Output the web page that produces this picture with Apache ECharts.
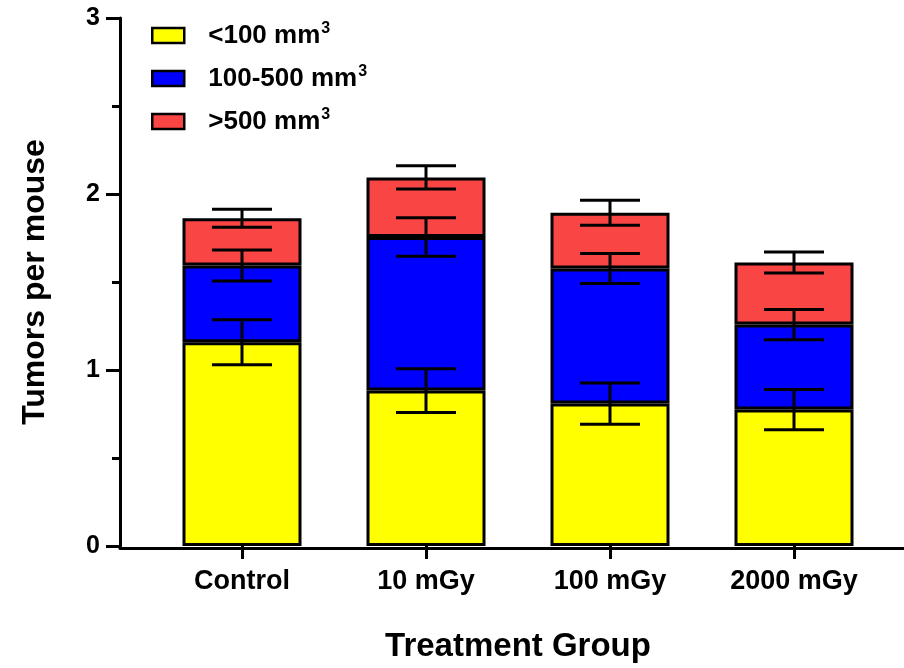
<!DOCTYPE html>
<html>
<head>
<meta charset="utf-8">
<script src="https://cdn.jsdelivr.net/npm/echarts@6/dist/echarts.min.js"></script>
<style>
	html, body { margin: 0; padding: 0; background: #fff; }
	#chart { width: 904px; height: 668px; }
</style>
</head>
<body>
<div id="chart"></div>
<script>
'use strict';
// groups on the x axis
var categories = ['Control', '10 mGy', '100 mGy', '2000 mGy'];
var seriesNames = ['<100 mm', '100-500 mm', '>500 mm'];
// stacked segment heights (tumors per mouse)
var small = [1.158, 0.883, 0.809, 0.775];
var medium = [0.436, 0.873, 0.768, 0.483];
var large = [0.268, 0.338, 0.317, 0.353];
// error bar half-lengths at the top of each segment
var smallErr = [0.128, 0.124, 0.117, 0.114];
var mediumErr = [0.088, 0.109, 0.085, 0.086];
var largeErr = [0.051, 0.066, 0.071, 0.060];
var yTicks = [0, 1, 2, 3];

var font = "'Liberation Sans', Arial, sans-serif";
var colors = ['#ffff00', '#0000ff', '#fa4545'];

function cumulative(layers, upto) {
	return categories.map(function (c, i) {
		var s = 0;
		for (var k = 0; k <= upto; k++) { s += layers[k][i]; }
		return s;
	});
}

var layers = [small, medium, large];
var errs = [smallErr, mediumErr, largeErr];

function errRender(params, api) {
	var x = api.value(0), top = api.value(1), e = api.value(2);
	var hi = api.coord([x, top + e]);
	var lo = api.coord([x, top - e]);
	var half = 30;
	var st = { stroke: '#000', lineWidth: 3 };
	return {
		type: 'group',
		children: [
			{ type: 'line', shape: { x1: hi[0], y1: hi[1], x2: lo[0], y2: lo[1] }, style: st },
			{ type: 'line', shape: { x1: hi[0] - half, y1: hi[1], x2: hi[0] + half, y2: hi[1] }, style: st },
			{ type: 'line', shape: { x1: lo[0] - half, y1: lo[1], x2: lo[0] + half, y2: lo[1] }, style: st }
		]
	};
}

var series = [];
layers.forEach(function (arr, k) {
	series.push({
		name: seriesNames[k],
		type: 'bar',
		stack: 'total',
		barWidth: 119,
		itemStyle: { color: colors[k], borderColor: '#000', borderWidth: 3 },
		data: arr
	});
});
layers.forEach(function (arr, k) {
	var tops = cumulative(layers, k);
	series.push({
		type: 'custom',
		renderItem: errRender,
		z: 5,
		silent: true,
		data: tops.map(function (t, i) { return [i, t, errs[k][i]]; })
	});
});

var axisFont = { fontFamily: font, fontWeight: 'bold', color: '#000' };

var chart = echarts.init(document.getElementById('chart'));
chart.setOption({
	animation: false,
	textStyle: { fontFamily: font },
	grid: [
		{ left: 150, right: 18, top: 18, bottom: 120 },
		{ left: 120, right: 0, top: 18, bottom: 120 }
	],
	legend: {
		data: seriesNames,
		orient: 'vertical',
		left: 151,
		top: 21,
		itemWidth: 32,
		itemHeight: 15,
		itemGap: 14,
		icon: 'rect',
		itemStyle: { borderColor: '#000', borderWidth: 2.5 },
		formatter: function (name) { return name + '{sup|3}'; },
		textStyle: {
			fontFamily: font, fontSize: 26, fontWeight: 'bold', color: '#000',
			lineHeight: 29,
			padding: [0, 0, 0, 19],
			rich: {
				sup: { fontFamily: font, fontSize: 16, fontWeight: 'bold', color: '#000', verticalAlign: 'top', lineHeight: 29, padding: [0, 0, 0, 1] }
			}
		},
		padding: 0
	},
	xAxis: [
		{
			type: 'category',
			data: categories,
			gridIndex: 0,
			name: 'Treatment Group',
			nameLocation: 'middle',
			nameGap: 84,
			nameTextStyle: Object.assign({ fontSize: 33 }, axisFont),
			axisLine: { show: false },
			axisTick: { show: true, alignWithLabel: true, length: 13, lineStyle: { color: '#000', width: 3 } },
			axisLabel: Object.assign({ fontSize: 27, margin: 22 }, axisFont),
			splitLine: { show: false }
		},
		{
			type: 'value',
			gridIndex: 1,
			min: 0,
			max: 1,
			axisLine: { show: true, onZero: false, lineStyle: { color: '#000', width: 3 } },
			axisTick: { show: false },
			axisLabel: { show: false },
			splitLine: { show: false }
		}
	],
	yAxis: [
		{
			type: 'value',
			gridIndex: 0,
			offset: 30,
			min: yTicks[0],
			max: yTicks[yTicks.length - 1],
			interval: 1,
			name: 'Tumors per mouse',
			nameLocation: 'middle',
			nameGap: 69,
			nameTextStyle: Object.assign({ fontSize: 32 }, axisFont),
			axisLine: { show: true, lineStyle: { color: '#000', width: 3 } },
			axisTick: { show: true, length: 14, lineStyle: { color: '#000', width: 3 } },
			minorTick: { show: true, splitNumber: 2, length: 8, lineStyle: { color: '#000', width: 3 } },
			axisLabel: Object.assign({ fontSize: 25, margin: 20 }, axisFont),
			splitLine: { show: false },
			minorSplitLine: { show: false }
		},
		{ type: 'value', gridIndex: 1, show: false }
	],
	series: series
});
</script>
</body>
</html>
